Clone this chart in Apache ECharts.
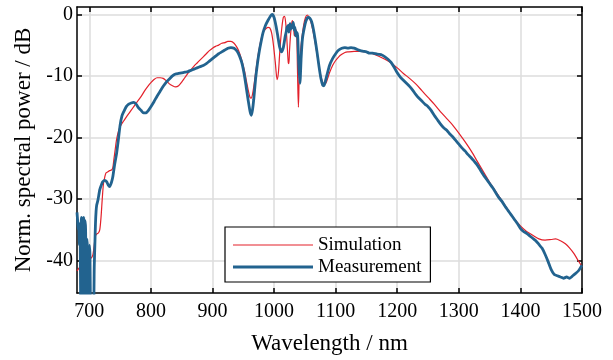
<!DOCTYPE html>
<html><head><meta charset="utf-8">
<script src="https://cdn.jsdelivr.net/npm/echarts@6/dist/echarts.min.js"></script>
<style>html,body{margin:0;padding:0;background:#fff}#c{width:613px;height:360px}</style>
</head><body><div id="c"></div>
<script>
const xTicks = [700, 800, 900, 1000, 1100, 1200, 1300, 1400, 1500];
const yTicks = [0, -10, -20, -30, -40];
const seriesNames = ['Simulation', 'Measurement'];

const simWl = [680,685,690,695,700,704,706,708,710,712,715,717,719,721,723,725,727,730,733,736,738,740,742,744,746,749,752,756,760,765,770,775,780,785,790,795,800,805,810,815,820,825,830,835,840,845,850,855,860,865,870,875,880,885,890,895,900,905,910,915,920,925,930,935,940,944,948,952,955,958,961,963,965,967,970,973,976,979,982,986,990,993,996,999,1002,1005,1007,1009,1011,1013,1015,1017,1019,1021,1023,1024,1025,1027,1029,1030,1032,1033,1035,1036,1037,1038,1039.5,1041,1043,1045,1048,1051,1054,1057,1060,1063,1066,1069,1072,1075,1078,1081,1084,1087,1090,1095,1100,1105,1110,1115,1120,1130,1140,1150,1160,1170,1180,1190,1200,1210,1220,1230,1240,1250,1260,1270,1280,1290,1300,1310,1320,1330,1340,1350,1360,1370,1380,1390,1400,1410,1420,1430,1440,1450,1457,1465,1473,1480,1487,1493,1500];
const simDb = [-41.7,-41.0,-40.5,-40.0,-39.8,-39.5,-39.0,-37.5,-36.0,-35.7,-35.5,-35.0,-33.0,-30.0,-27.5,-26.5,-25.8,-25.6,-25.4,-25.3,-25.0,-23.5,-22.0,-20.5,-19.5,-18.5,-17.9,-17.3,-16.7,-16.0,-15.3,-14.6,-13.9,-13.2,-12.4,-11.7,-11.1,-10.6,-10.3,-10.3,-10.4,-10.8,-11.3,-11.6,-11.8,-11.6,-11.0,-10.3,-9.6,-9.0,-8.4,-7.9,-7.4,-6.9,-6.4,-5.9,-5.5,-5.2,-5.0,-4.7,-4.6,-4.4,-4.4,-4.7,-5.4,-6.3,-7.6,-9.2,-10.8,-12.3,-13.5,-13.6,-13.0,-11.8,-9.5,-7.3,-5.5,-4.0,-3.0,-2.4,-2.1,-2.2,-3.0,-5.0,-7.8,-10.6,-9.5,-6.5,-3.8,-1.8,-0.5,-0.3,-1.5,-4.5,-7.8,-8.0,-6.0,-3.0,-1.2,-1.0,-2.5,-3.5,-2.8,-2.5,-4.0,-9.0,-15.1,-9.5,-6.0,-4.0,-1.8,-0.5,-0.1,-0.5,-1.3,-2.6,-4.2,-6.0,-7.9,-9.6,-10.8,-11.3,-11.2,-10.4,-9.5,-8.3,-7.5,-6.9,-6.5,-6.2,-6.1,-6.0,-6.0,-6.1,-6.4,-6.8,-7.3,-7.9,-8.7,-9.6,-10.4,-11.3,-12.4,-13.5,-14.6,-15.8,-16.9,-18.0,-19.3,-20.7,-22.2,-23.9,-25.6,-27.3,-28.8,-30.3,-31.8,-33.2,-34.4,-35.3,-35.9,-36.5,-36.7,-36.6,-36.5,-36.8,-37.3,-38.0,-38.9,-39.9,-41.0];

const measWl = [680,681,682,683,684,685,686,687,688,689,690,691,692,693,694,695,696,697,698,699,700,701,702,703,705,707,708,709,710,711,712,714,717,720,722,725,728,731,733,736,738,741,744,747,750,753,756,760,764,768,772,776,780,784,788,792,796,800,805,810,815,820,825,830,835,840,845,850,855,860,865,870,875,880,885,890,895,900,905,910,915,920,925,930,935,940,944,948,952,955,958,961,963,965,967,970,973,976,979,982,986,990,994,997,1000,1003,1006,1009,1012,1015,1018,1020,1021,1022,1023,1024,1025,1026,1027,1028,1030,1031,1032,1033,1034,1035,1036,1037,1038,1040,1042,1044,1046,1049,1052,1055,1058,1061,1064,1067,1070,1073,1076,1079,1081,1083,1086,1090,1095,1100,1105,1110,1115,1120,1125,1130,1135,1140,1145,1150,1155,1160,1165,1170,1175,1180,1185,1190,1195,1200,1205,1210,1215,1220,1225,1230,1235,1240,1245,1250,1255,1260,1265,1270,1275,1280,1285,1290,1295,1300,1305,1310,1315,1320,1325,1330,1335,1340,1345,1350,1355,1360,1365,1370,1375,1380,1385,1390,1395,1400,1405,1410,1415,1420,1425,1430,1435,1440,1445,1450,1455,1460,1465,1470,1475,1480,1485,1490,1495,1500];
const measDb = [-32.2,-33.5,-35.0,-34.0,-37.5,-36.0,-47,-33.0,-33.5,-47,-34.0,-33.0,-47,-33.5,-35.0,-47,-36.5,-38.0,-47,-47,-37.5,-39.0,-47,-47,-47,-47,-41.0,-37.5,-34.0,-32.0,-31.0,-30.2,-28.5,-27.6,-27.2,-27.0,-27.2,-27.8,-28.0,-27.3,-26.5,-24.5,-22.8,-20.5,-18.0,-16.5,-15.8,-15.0,-14.6,-14.4,-14.3,-14.6,-15.2,-15.6,-16.0,-16.0,-15.6,-15.0,-14.2,-13.3,-12.5,-11.7,-11.0,-10.5,-10.0,-9.7,-9.6,-9.5,-9.4,-9.3,-9.1,-8.9,-8.7,-8.5,-8.3,-8.0,-7.6,-7.2,-6.8,-6.4,-6.1,-5.8,-5.5,-5.4,-5.5,-6.0,-6.8,-8.0,-10.0,-12.0,-14.0,-15.8,-16.4,-15.5,-13.8,-10.5,-8.0,-6.0,-4.4,-3.0,-1.8,-1.0,-0.3,0.0,-0.5,-1.8,-3.5,-5.3,-6.1,-5.4,-3.6,-2.7,-2.0,-2.6,-1.8,-2.9,-2.2,-1.5,-2.4,-1.8,-2.2,-1.3,-1.9,-2.6,-2.1,-3.5,-2.8,-3.6,-3.0,-8.0,-11.2,-7.0,-4.0,-2.2,-1.0,-0.5,-0.6,-1.2,-2.5,-4.3,-6.3,-8.5,-10.4,-11.5,-11.6,-11.0,-9.8,-8.3,-7.2,-6.4,-5.8,-5.5,-5.4,-5.5,-5.4,-5.5,-5.7,-5.9,-6.0,-6.1,-6.3,-6.3,-6.4,-6.5,-6.6,-6.9,-7.3,-7.8,-8.6,-9.5,-10.2,-10.7,-11.2,-11.7,-12.3,-13.0,-13.6,-14.1,-14.6,-15.0,-15.6,-16.4,-17.1,-17.8,-18.4,-18.8,-19.4,-19.9,-20.5,-21.1,-21.7,-22.2,-22.8,-23.3,-23.9,-24.5,-25.3,-26.1,-26.8,-27.5,-28.2,-29.0,-29.8,-30.4,-31.2,-31.9,-32.6,-33.3,-34.0,-34.8,-35.3,-35.6,-36.0,-36.4,-36.8,-37.4,-38.0,-39.0,-40.2,-41.5,-42.3,-42.5,-42.7,-42.9,-42.7,-42.9,-42.5,-42.1,-41.6,-40.8];

const FONT = '"Liberation Serif", "Times New Roman", serif';
const RED = '#e3202a';
const BLUE = '#22638f';
const simData = simWl.map((w, i) => [w, simDb[i]]);
const measData = measWl.map((w, i) => [w, measDb[i]]);

const plain = v => String(v);
const axisLineStyle = { color: '#000', width: 1.5 };
const chart = echarts.init(document.getElementById('c'), null, { renderer: 'canvas' });
chart.setOption({
  animation: false,
  backgroundColor: '#fff',
  grid: { left: 77, right: 31, top: 7, bottom: 60, containLabel: false },
  legend: {
    data: [
      { name: seriesNames[0], icon: 'path://M0,0L0.01,0Z M0,6.4H80V7.6H0Z M0,14L0.01,14Z' },
      { name: seriesNames[1], icon: 'path://M0,0L0.01,0Z M0,5.5H80V8.5H0Z M0,14L0.01,14Z' }
    ],
    orient: 'vertical', left: 225, top: 227,
    itemWidth: 80, itemHeight: 14, itemGap: 2,
    padding: [8, 9, 5, 8],
    borderColor: '#000', borderWidth: 1.2, backgroundColor: '#fff',
    textStyle: { fontFamily: FONT, fontSize: 19, color: '#000', lineHeight: 20 }
  },
  xAxis: [{
    type: 'value', min: 680, max: 1500, position: 'bottom',
    axisLine: { show: true, onZero: false, lineStyle: axisLineStyle },
    axisTick: { show: true, inside: true, length: 5, customValues: xTicks, lineStyle: axisLineStyle },
    axisLabel: { customValues: xTicks, formatter: plain, fontFamily: FONT, fontSize: 20, color: '#000', margin: 9 },
    splitLine: { show: true, lineStyle: { color: '#dcdcdc', width: 1.5 } },
    name: 'Wavelength / nm', nameLocation: 'middle', nameGap: 39,
    nameTextStyle: { fontFamily: FONT, fontSize: 23, color: '#000' }
  }, {
    type: 'value', min: 680, max: 1500, position: 'top',
    axisLine: { show: true, onZero: false, lineStyle: axisLineStyle },
    axisTick: { show: true, inside: true, length: 5, customValues: xTicks, lineStyle: axisLineStyle },
    axisLabel: { show: false }, splitLine: { show: false }
  }],
  yAxis: [{
    type: 'value', min: -45.3, max: 1.2, position: 'left',
    axisLine: { show: true, onZero: false, lineStyle: axisLineStyle },
    axisTick: { show: true, inside: true, length: 5, customValues: yTicks, lineStyle: axisLineStyle },
    axisLabel: { customValues: yTicks, formatter: plain, fontFamily: FONT, fontSize: 20, color: '#000', margin: 4 },
    splitLine: { show: true, lineStyle: { color: '#dcdcdc', width: 1.5 } },
    name: 'Norm. spectral power / dB', nameLocation: 'middle', nameGap: 40,
    nameTextStyle: { fontFamily: FONT, fontSize: 23, color: '#000' }
  }, {
    type: 'value', min: -45.3, max: 1.2, position: 'right',
    axisLine: { show: true, onZero: false, lineStyle: axisLineStyle },
    axisTick: { show: true, inside: true, length: 5, customValues: yTicks, lineStyle: axisLineStyle },
    axisLabel: { show: false }, splitLine: { show: false }
  }],
  series: [{
    name: seriesNames[0], type: 'line', data: simData, symbol: 'none', smooth: 0.3,
    xAxisIndex: 0, yAxisIndex: 0, clip: true,
    lineStyle: { color: RED, width: 1.2 }, itemStyle: { color: RED }
  }, {
    name: seriesNames[1], type: 'line', data: measData, symbol: 'none', smooth: 0.2,
    xAxisIndex: 0, yAxisIndex: 0, clip: true,
    lineStyle: { color: BLUE, width: 2.8 }, itemStyle: { color: BLUE }
  }]
});
</script>
</body></html>
